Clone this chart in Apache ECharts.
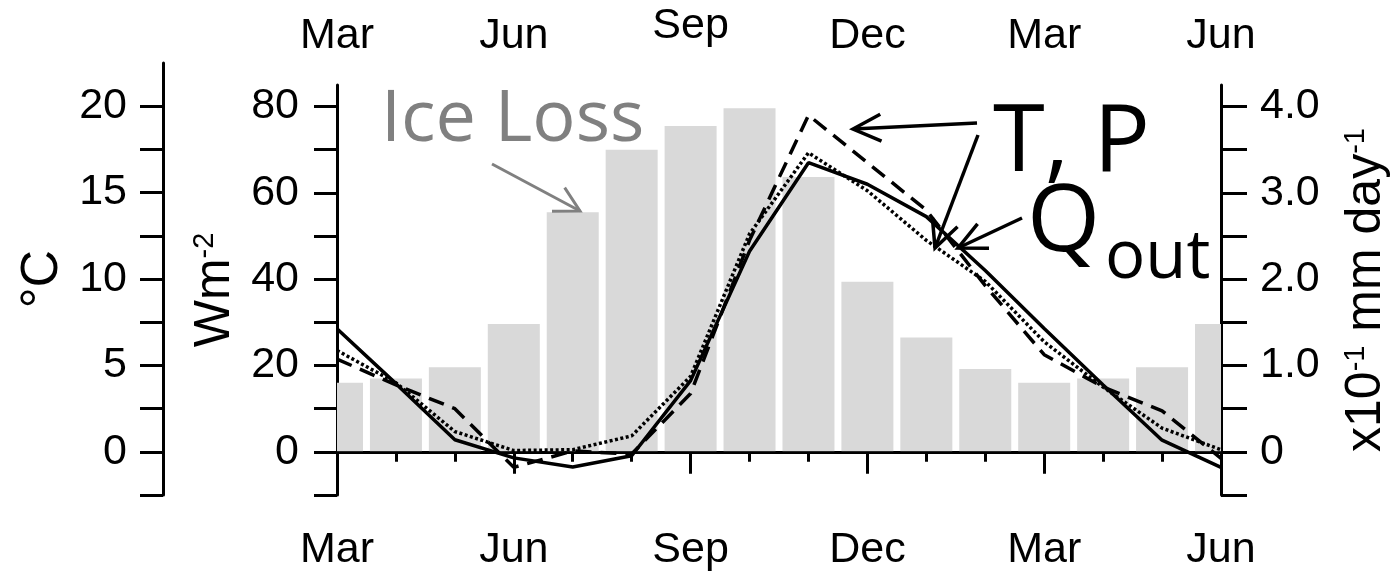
<!DOCTYPE html>
<html><head><meta charset="utf-8">
<script src="https://cdn.jsdelivr.net/npm/echarts@6/dist/echarts.min.js"></script>
<style>html,body{margin:0;padding:0;background:#fff}#c{width:1391px;height:572px}</style>
</head><body><div id="c"></div>
<script>
// x positions: months since March (0 = Mar, 15 = Jun of following year)
const monthIndex = [0,1,2,3,4,5,6,7,8,9,10,11,12,13,14,15];
const monthTickLabels = ['Mar','Jun','Sep','Dec','Mar','Jun'];
// Ice loss bars (Wm-2)
const iceLoss   = [16, 17, 19.6, 29.6, 55.5, 70, 75.5, 79.6, 63.7, 39.4, 26.5, 19.2, 16, 17, 19.6, 29.6];
// Curves (read in left-axis units)
const lineSolid  = [28.5, 15.8, 2.8, -1.4, -3.5, -0.9, 16.5, 46.5, 67.0, 62.0, 54.5, 42.0, 28.6, 15.5, 2.7, -3.6];
const lineDashed = [21.5, 15.5, 10.0, -3.6, 0.2, -0.5, 13.5, 49.0, 78.0, 67.0, 56.0, 38.5, 22.5, 15.0, 9.5, -1.5];
const lineDotted = [23.5, 16.0, 4.7, 0.3, 0.5, 3.7, 17.5, 50.5, 69.3, 60.5, 49.0, 39.5, 25.5, 15.0, 5.5, 0.5];
// axis ticks / labels
const wmTickValues  = [-10,0,10,20,30,40,50,60,70,80];
const wmLabelValues = [0,20,40,60,80];
const degTickValues  = [-2.5,0,2.5,5,7.5,10,12.5,15,17.5,20];
const degLabelValues = [0,5,10,15,20];
const mmTickValues  = [-0.5,0,0.5,1,1.5,2,2.5,3,3.5,4];
const mmLabelValues = [0,1,2,3,4];

const FONT = 'Liberation Sans, Arial, sans-serif';
const LBL = 43;
const black = '#000';
const BAR_W = 52;

function pairs(ys){ return monthIndex.map((m,i)=>[m, ys[i]]); }

function arrow(x1,y1,x2,y2,color,w,len,ang){
  const a = Math.atan2(y2-y1, x2-x1);
  const h1 = [x2 - len*Math.cos(a-ang), y2 - len*Math.sin(a-ang)];
  const h2 = [x2 - len*Math.cos(a+ang), y2 - len*Math.sin(a+ang)];
  return [
    {type:'line', silent:true, z:100, shape:{x1:x1,y1:y1,x2:x2,y2:y2}, style:{stroke:color,lineWidth:w}},
    {type:'polyline', silent:true, z:100, shape:{points:[h1,[x2,y2],h2]}, style:{stroke:color,lineWidth:w,fill:null}}
  ];
}
function txt(x,y,s,font,color){
  return {type:'text', silent:true, z:100, x:x, y:y,
    style:{text:s, font:font, fill:color, align:'left', verticalAlign:'middle', textAlign:'left', textVerticalAlign:'middle'}};
}

const xCommon = {
  type:'value', min:0, max:15, interval:3, gridIndex:0,
  axisLine:{show:true, lineStyle:{color:black, width:3}},
  axisTick:{show:true, inside:false, length:22, lineStyle:{color:black, width:3}},
  minorTick:{show:true, splitNumber:3, length:10, lineStyle:{color:black, width:3}},
  splitLine:{show:false}, minorSplitLine:{show:false}
};
const richLbl = {
  n:{fontFamily:FONT, fontSize:LBL, color:black},
  up:{fontFamily:FONT, fontSize:LBL, color:black, padding:[0,0,10,0]}
};

const chart = echarts.init(document.getElementById('c'), null, {renderer:'canvas'});
chart.setOption({
  animation:false,
  backgroundColor:'#fff',
  grid:[
    {left:337, right:170, top:85, bottom:77, containLabel:false, outerBoundsMode:'none'},
    {left:163, width:1, top:63, bottom:77, containLabel:false, outerBoundsMode:'none'}
  ],
  xAxis:[
    Object.assign({}, xCommon, {position:'bottom',
      axisLabel:{show:true, margin:34, color:black, fontFamily:FONT, fontSize:LBL,
        formatter:function(v){ return monthTickLabels[Math.round(v/3)]; }}}),
    Object.assign({}, xCommon, {position:'top',
      axisLabel:{show:true, margin:27, color:black, fontFamily:FONT, fontSize:LBL,
        formatter:function(v){ const i=Math.round(v/3); return (i===2 ? '{up|' : '{n|') + monthTickLabels[i] + '}'; },
        rich:richLbl}}),
    {type:'value', gridIndex:1, min:0, max:1, show:false}
  ],
  yAxis:[
    {type:'value', gridIndex:0, position:'left', min:-10, max:85,
      name:'{a|Wm}{s|-2}', nameLocation:'middle', nameGap:96,
      nameTextStyle:{rich:{a:{fontFamily:FONT, fontSize:50, color:black}, s:{fontFamily:FONT, fontSize:29, color:black, verticalAlign:'top'}}},
      axisLine:{show:true, onZero:false, lineStyle:{color:black, width:3}},
      axisTick:{show:true, inside:false, length:23, customValues:wmTickValues, lineStyle:{color:black, width:3}},
      axisLabel:{show:true, margin:38, customValues:wmLabelValues, color:black, fontFamily:FONT, fontSize:LBL},
      splitLine:{show:false}},
    {type:'value', gridIndex:0, position:'right', min:-0.5, max:4.25,
      name:'{a|x10}{s|-1}{a| mm day}{s|-1}', nameLocation:'middle', nameGap:120,
      nameTextStyle:{rich:{a:{fontFamily:FONT, fontSize:50, color:black}, s:{fontFamily:FONT, fontSize:29, color:black, verticalAlign:'top'}}},
      axisLine:{show:true, onZero:false, lineStyle:{color:black, width:3}},
      axisTick:{show:true, inside:false, length:26, customValues:mmTickValues, lineStyle:{color:black, width:3}},
      axisLabel:{show:true, margin:39, customValues:mmLabelValues, color:black, fontFamily:FONT, fontSize:LBL,
        formatter:function(v){ return v===0 ? '0' : v.toFixed(1); }},
      splitLine:{show:false}},
    {type:'value', gridIndex:1, position:'left', min:-2.5, max:22.5,
      name:'°C', nameLocation:'middle', nameGap:94,
      nameTextStyle:{fontFamily:FONT, fontSize:52, color:black},
      axisLine:{show:true, onZero:false, lineStyle:{color:black, width:3}},
      axisTick:{show:true, inside:false, length:23, customValues:degTickValues, lineStyle:{color:black, width:3}},
      axisLabel:{show:true, margin:36, customValues:degLabelValues, color:black, fontFamily:FONT, fontSize:LBL},
      splitLine:{show:false}}
  ],
  series:[
    {type:'custom', name:'Ice Loss', xAxisIndex:0, yAxisIndex:0, data:pairs(iceLoss), z:1,
      encode:{x:0, y:1},
      renderItem:function(params, api){
        const xv = api.value(0), yv = api.value(1);
        const top = api.coord([xv, yv]);
        const base = api.coord([xv, 0]);
        const cs = params.coordSys;
        const shape = echarts.graphic.clipRectByRect(
          {x: top[0]-BAR_W/2, y: Math.min(top[1], base[1]), width: BAR_W, height: Math.abs(base[1]-top[1])},
          {x: cs.x, y: cs.y, width: cs.width, height: cs.height});
        if (!shape) return null;
        return {type:'rect', shape:shape, style:{fill:'#d9d9d9'}};
      }},
    {type:'line', name:'dotted', xAxisIndex:0, yAxisIndex:0, data:pairs(lineDotted), symbol:'none', clip:true, z:3,
      lineStyle:{color:black, width:3.5, type:[3,2.5]}},
    {type:'line', name:'dashed', xAxisIndex:0, yAxisIndex:0, data:pairs(lineDashed), symbol:'none', clip:true, z:3,
      lineStyle:{color:black, width:3.5, type:[16,9]}},
    {type:'line', name:'solid', xAxisIndex:0, yAxisIndex:0, data:pairs(lineSolid), symbol:'none', clip:true, z:4,
      lineStyle:{color:black, width:3.5, type:'solid'},
      markLine:{silent:true, symbol:'none', label:{show:false}, animation:false,
        lineStyle:{color:black, width:1.6, type:'solid'}, data:[{yAxis:0}]}}
  ],
  graphic:[].concat(
    [txt(381, 120, 'Ice Loss', '72px "Open Sans", sans-serif', '#808080')],
    arrow(492,164,580,211,'#808080',3,28,0.5),
    [txt(993, 144, 'T, P', '94px "Open Sans", sans-serif', black)],
    [txt(1027, 224, 'Q', '94px "Open Sans", sans-serif', black)],
    [txt(1105, 259, 'out', '67px "Open Sans", sans-serif', black)],
    arrow(977,123,853,129,black,3.5,31,0.45),
    arrow(978,135,935,248,black,3.5,31,0.45),
    arrow(1022,218,958,248,black,3.5,31,0.45)
  )
});
</script>
</body></html>
